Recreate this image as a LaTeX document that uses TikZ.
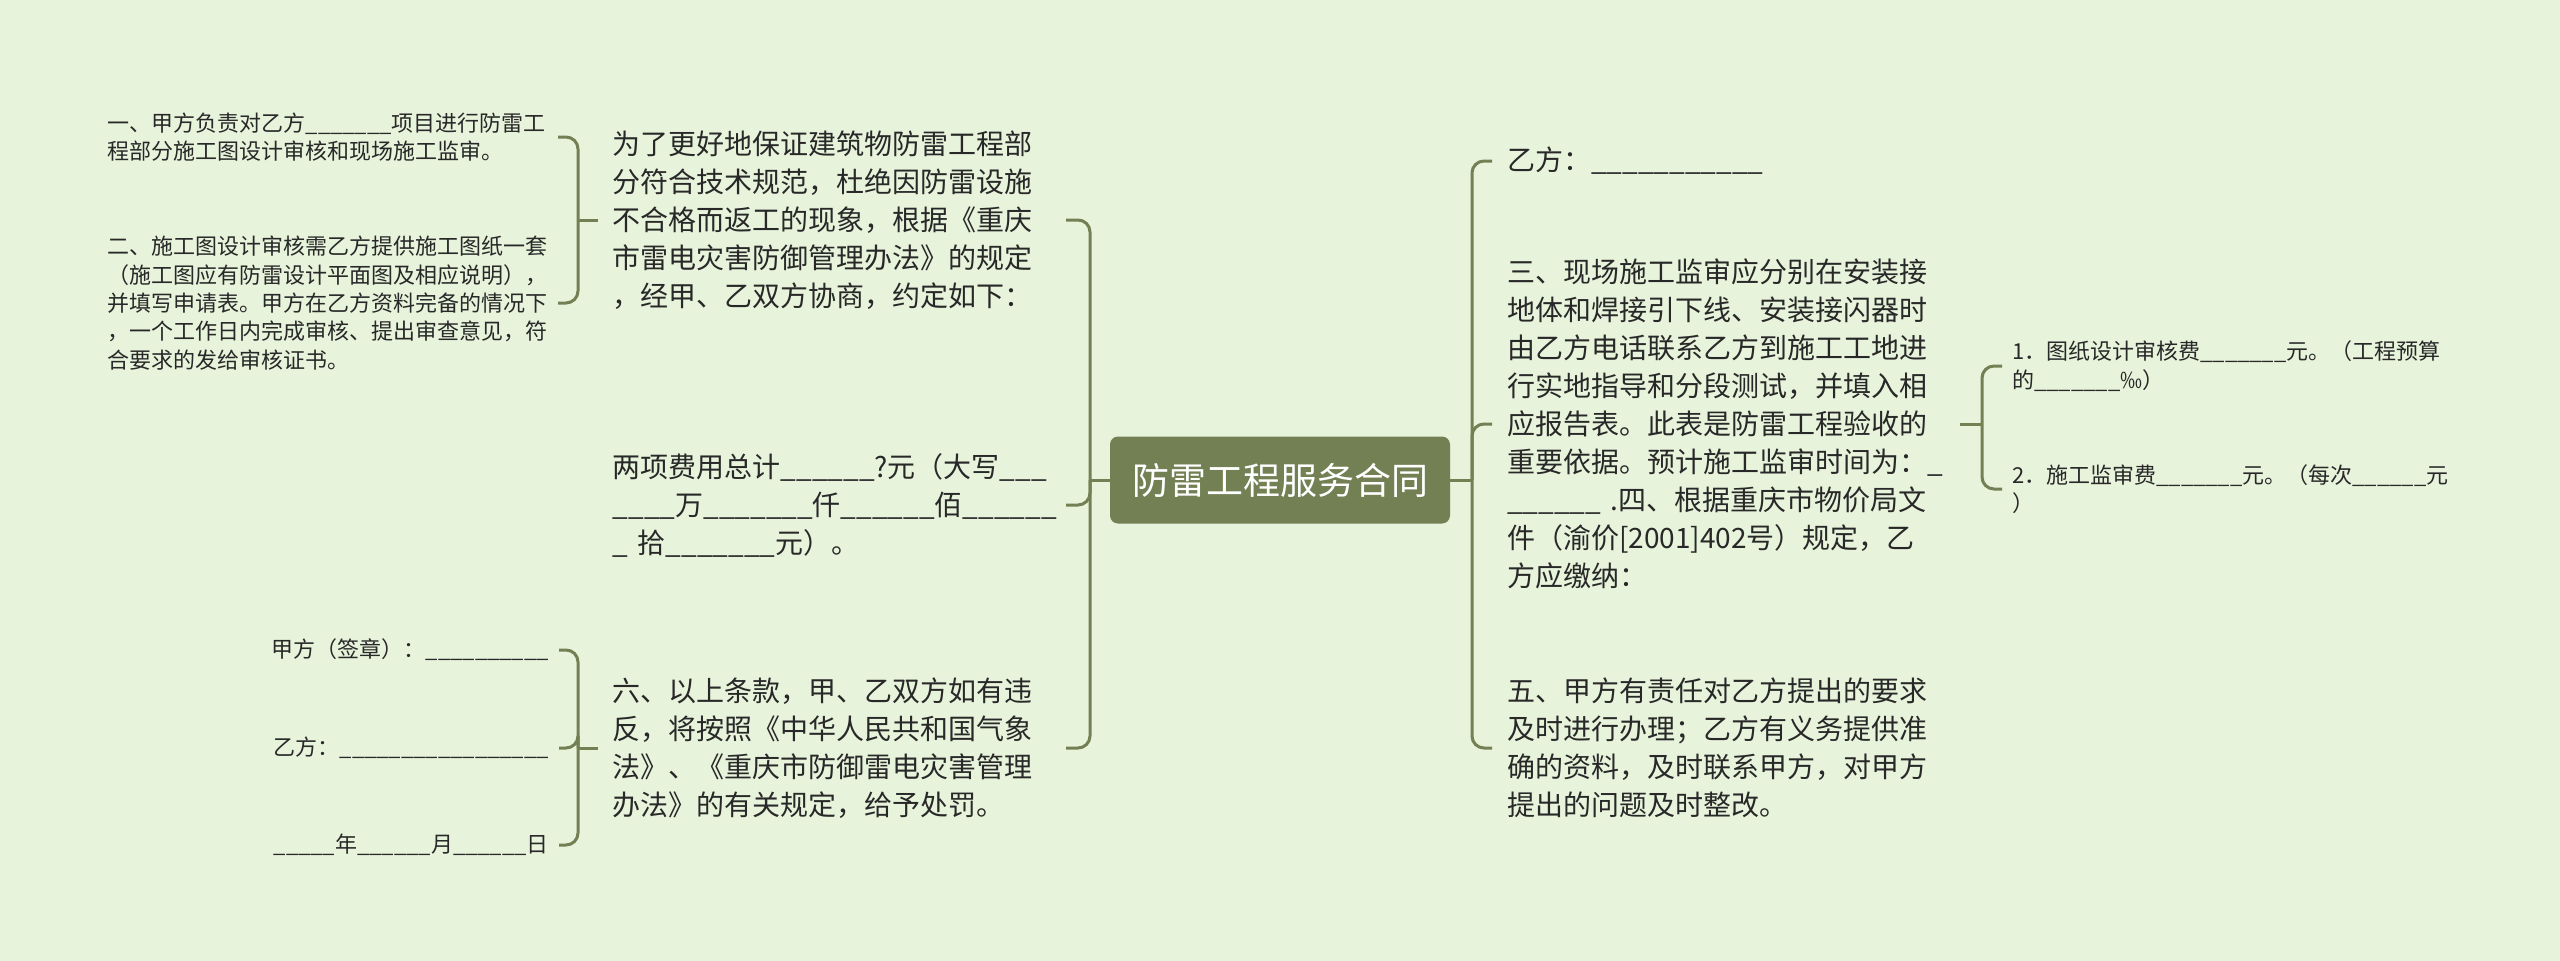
\documentclass[tikz,border=0pt]{standalone}
\usepackage{fontspec}
\setmainfont{Noto Sans CJK SC}
\definecolor{mapbg}{RGB}{231,243,219}
\definecolor{mapline}{RGB}{115,128,84}
\definecolor{maptext}{RGB}{40,40,40}

\begin{document}
\begin{tikzpicture}[
    x=1pt, y=-1pt,
    topic/.style={rectangle, rounded corners=8pt, fill=mapline, text=white, font=\fontsize{37pt}{44pt}\selectfont, minimum width=340pt, minimum height=87pt, inner sep=0pt},
    branch/.style={text=maptext, font=\fontsize{28pt}{38pt}\selectfont, text width=438pt, align=left, inner xsep=15pt, inner ysep=4pt},
    leaf/.style={text=maptext, font=\fontsize{22pt}{28.3pt}\selectfont, inner xsep=10pt, inner ysep=3pt},
    link/.style={draw=mapline, line width=3pt, rounded corners=12pt}
  ]
  \fill[mapbg] (0,0) rectangle (2560,961);
  \useasboundingbox (0,0) rectangle (2560,961);

  \node[topic] (root) at (1280,480) {防雷工程服务合同};

  % left branches
  \node[branch, anchor=east] (goal) at (1066,220) {为了更好地保证建筑物防雷工程部\\分符合技术规范，杜绝因防雷设施\\不合格而返工的现象，根据《重庆\\市雷电灾害防御管理办法》的规定\\，经甲、乙双方协商，约定如下：};
  \node[branch, anchor=east] (fee) at (1066,505) {两项费用总计\_\_\_\_\_\_?元（大写\_\_\_\\\_\_\_\_万\_\_\_\_\_\_\_仟\_\_\_\_\_\_佰\_\_\_\_\_\_\\\_ 拾\_\_\_\_\_\_\_元）。};
  \node[branch, anchor=east] (penalty) at (1066,748) {六、以上条款，甲、乙双方如有违\\反，将按照《中华人民共和国气象\\法》、《重庆市防御雷电灾害管理\\办法》的有关规定，给予处罚。};

  % right branches
  \node[branch, anchor=west] (partyb) at (1492,161) {乙方：\_\_\_\_\_\_\_\_\_\_\_};
  \node[branch, anchor=west] (supervise) at (1492,424) {三、现场施工监审应分别在安装接\\地体和焊接引下线、安装接闪器时\\由乙方电话联系乙方到施工工地进\\行实地指导和分段测试，并填入相\\应报告表。此表是防雷工程验收的\\重要依据。预计施工监审时间为：\_\\\_\_\_\_\_\_ .四、根据重庆市物价局文\\件（渝价[2001]402号）规定，乙\\方应缴纳：};
  \node[branch, anchor=west] (duty) at (1492,748) {五、甲方有责任对乙方提出的要求\\及时进行办理；乙方有义务提供准\\确的资料，及时联系甲方，对甲方\\提出的问题及时整改。};

  % leaves
  \node[leaf, text width=440pt, align=left, anchor=east] (review) at (558,137) {一、甲方负责对乙方\_\_\_\_\_\_\_项目进行防雷工\\程部分施工图设计审核和现场施工监审。};
  \node[leaf, text width=440pt, align=left, anchor=east] (drawings) at (558,303) {二、施工图设计审核需乙方提供施工图纸一套\\（施工图应有防雷设计平面图及相应说明），\\并填写申请表。甲方在乙方资料完备的情况下\\，一个工作日内完成审核、提出审查意见，符\\合要求的发给审核证书。};
  \node[leaf, align=right, anchor=east] (signa) at (559,650) {甲方（签章）：\_\_\_\_\_\_\_\_\_\_};
  \node[leaf, align=right, anchor=east] (signb) at (559,748) {乙方：\_\_\_\_\_\_\_\_\_\_\_\_\_\_\_\_\_};
  \node[leaf, align=right, anchor=east] (signdate) at (559,845) {\_\_\_\_\_年\_\_\_\_\_\_月\_\_\_\_\_\_日};
  \node[leaf, align=left, anchor=west] (feea) at (2002,366) {1．图纸设计审核费\_\_\_\_\_\_\_元。（工程预算\\的\_\_\_\_\_\_\_‰）};
  \node[leaf, align=left, anchor=west] (feeb) at (2002,489) {2．施工监审费\_\_\_\_\_\_\_元。（每次\_\_\_\_\_\_元\\）};

  \coordinate (lbar) at (1090,480);
  \coordinate (rbar) at (1472,480);
  \coordinate (ubar) at (578,220);
  \coordinate (bbar) at (578,748);
  \coordinate (sbar) at (1982,424);

  \draw[link] (root.west) -- (lbar);
  \draw[link] (root.east) -- (rbar);
  \foreach \n in {goal, fee, penalty} \draw[link] (lbar) |- (\n.east);
  \foreach \n in {partyb, supervise, duty} \draw[link] (rbar) |- (\n.west);
  \draw[link] (goal.west) -- (ubar);
  \foreach \n in {review, drawings} \draw[link] (ubar) |- (\n.east);
  \draw[link] (penalty.west) -- (bbar);
  \foreach \n in {signa, signb, signdate} \draw[link] (bbar) |- (\n.east);
  \draw[link] (supervise.east) -- (sbar);
  \foreach \n in {feea, feeb} \draw[link] (sbar) |- (\n.west);
\end{tikzpicture}
\end{document}
